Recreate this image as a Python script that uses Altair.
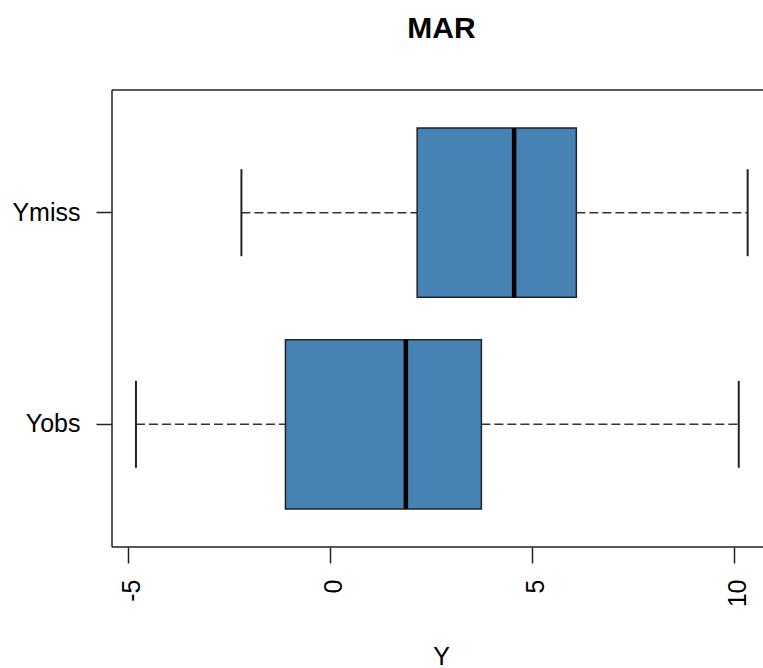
import altair as alt
import pandas as pd

# Five-number summaries of Y for the observed and missing parts (MAR mechanism)
groups = ["Yobs", "Ymiss"]
lower = [-4.81, -2.20]
q1 = [-1.11, 2.15]
median = [1.87, 4.55]
q3 = [3.74, 6.09]
upper = [10.11, 10.33]
x_ticks = [-5, 0, 5, 10]

stats = pd.DataFrame({
    "group": groups, "lower": lower, "q1": q1,
    "median": median, "q3": q3, "upper": upper,
})

W, H = 651, 457
FONT = "Liberation Sans"
LINE = "#222222"
BOX_FILL = "#4682B4"

x_scale = alt.Scale(domain=[-5.403, 10.71], nice=False, zero=False)
y_scale = alt.Scale(type="band", domain=["Ymiss", "Yobs"],
                    paddingInner=0, paddingOuter=0.08)

x_axis = alt.Axis(values=x_ticks, labelAngle=270, tickSize=16, labelPadding=16,
                  labelOffset=3, domain=False, grid=False,
                  labelExpr="datum.value + ''",
                  titleX=329, titleY=117, titleBaseline="alphabetic")
y_axis = alt.Axis(tickSize=16, labelPadding=16, domain=False, grid=False,
                  labelAngle=0, title=None)


def xq(field):
    return alt.X(f"{field}:Q", scale=x_scale, axis=x_axis, title="Y")


yq = alt.Y("group:N", scale=y_scale, axis=y_axis)

base = alt.Chart(stats)

whisker_style = dict(color="#333333", strokeWidth=1.5, strokeDash=[9, 4])
whisk_lo = base.mark_rule(**whisker_style).encode(x=xq("lower"), x2="q1:Q", y=yq)
whisk_hi = base.mark_rule(**whisker_style).encode(x=xq("q3"), x2="upper:Q", y=yq)

cap_style = dict(color=LINE, size=87, thickness=2, opacity=1)
cap_lo = base.mark_tick(**cap_style).encode(x=xq("lower"), y=yq)
cap_hi = base.mark_tick(**cap_style).encode(x=xq("upper"), y=yq)

boxes = base.mark_bar(
    height=alt.RelativeBandSize(0.8), fill=BOX_FILL, stroke=LINE, strokeWidth=1.5,
    opacity=1,
).encode(x=xq("q1"), x2="q3:Q", y=yq)

medians = base.mark_tick(color="black", size=169, thickness=4.5, opacity=1).encode(
    x=xq("median"), y=yq)

# Plot frame (open on the right, where the panel runs past the page edge)
frame_src = alt.Chart(pd.DataFrame({"k": [0]}))
frame_style = dict(color=LINE, strokeWidth=1.5)
frame_top = frame_src.mark_rule(**frame_style).encode(
    x=alt.value(0), x2=alt.value(W), y=alt.value(0))
frame_bottom = frame_src.mark_rule(**frame_style).encode(
    x=alt.value(0), x2=alt.value(W), y=alt.value(H))
frame_left = frame_src.mark_rule(**frame_style).encode(
    x=alt.value(0), y=alt.value(0), y2=alt.value(H))

chart = alt.layer(
    whisk_lo, whisk_hi, cap_lo, cap_hi, boxes, medians,
    frame_top, frame_bottom, frame_left,
).properties(
    width=W, height=H,
    title=alt.TitleParams("MAR", font=FONT, fontSize=30, fontWeight="bold",
                          color="black", anchor="middle", frame="group",
                          dx=4, offset=21, baseline="alphabetic"),
    autosize=alt.AutoSizeParams(type="none"),
    padding={"left": 112, "top": 90, "right": 0, "bottom": 121},
    background="white",
).configure_view(
    stroke=None
).configure_axis(
    labelFont=FONT, labelFontSize=25, labelColor="black",
    titleFont=FONT, titleFontSize=25, titleColor="black", titleFontWeight="normal",
    tickColor=LINE, tickWidth=1.5,
)

chart.save("out.html", embed_options={"renderer": "svg", "actions": False})
